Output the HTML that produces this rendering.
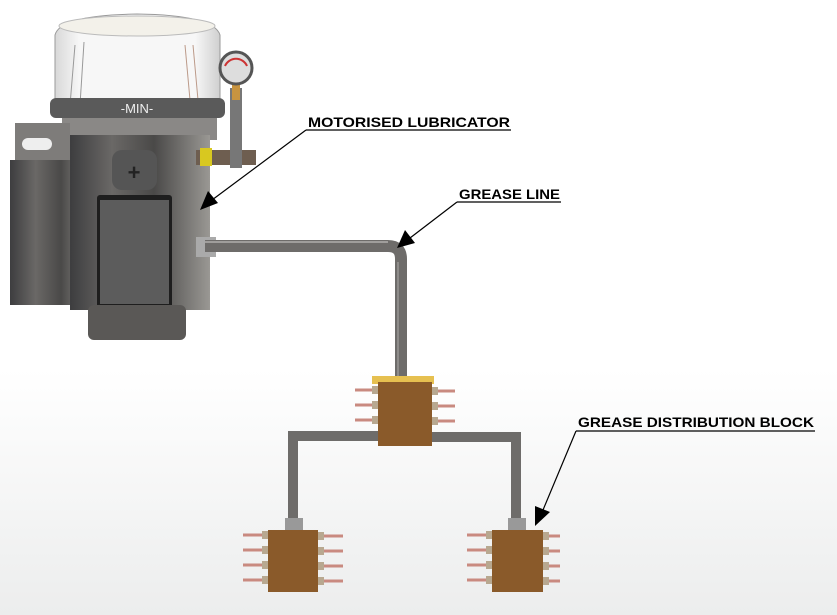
<!DOCTYPE html>
<html><head><style>
html,body{margin:0;padding:0;background:#fff;}
svg{display:block;}
text{font-family:"Liberation Sans",sans-serif;font-weight:bold;font-size:14px;fill:#000;}
</style></head><body>
<svg width="837" height="615" viewBox="0 0 837 615" xmlns="http://www.w3.org/2000/svg">
<defs>
<linearGradient id="bg" x1="0" y1="0" x2="0" y2="1"><stop offset="0.6" stop-color="#fff"/><stop offset="1" stop-color="#eceded"/></linearGradient>
<linearGradient id="metal" x1="0" y1="0" x2="1" y2="0"><stop offset="0" stop-color="#3d3d3f"/><stop offset="0.3" stop-color="#6a6866"/><stop offset="0.6" stop-color="#4a4948"/><stop offset="1" stop-color="#9a9894"/></linearGradient>
<linearGradient id="dome" x1="0" y1="0" x2="1" y2="0"><stop offset="0" stop-color="#d8d8d8"/><stop offset="0.15" stop-color="#f7f7f7"/><stop offset="0.85" stop-color="#f7f7f7"/><stop offset="1" stop-color="#cfcfcf"/></linearGradient>
</defs>
<rect width="837" height="615" fill="url(#bg)"/>

<!-- lubricator -->
<path d="M55 100 L55 35 Q60 15 137 14 Q214 15 220 35 L220 100 Z" fill="url(#dome)" stroke="#9a9a9a"/>
<ellipse cx="137" cy="26" rx="78" ry="10" fill="#f3f1ea" stroke="#bbb"/>
<line x1="75" y1="45" x2="70" y2="105" stroke="#999"/><line x1="84" y1="42" x2="80" y2="105" stroke="#999"/>
<line x1="185" y1="45" x2="190" y2="100" stroke="#b98" /><line x1="193" y1="45" x2="198" y2="100" stroke="#b98"/>
<rect x="50" y="98" width="175" height="20" rx="6" fill="#5a5a5a"/>
<text x="137" y="113" text-anchor="middle" style="font-size:13px;font-weight:normal;fill:#eee">-MIN-</text>
<rect x="62" y="118" width="155" height="22" fill="#8a8886"/>
<rect x="15" y="123" width="55" height="40" fill="#7e7c7a"/>
<rect x="22" y="138" width="30" height="12" rx="6" fill="#eee"/>
<rect x="10" y="160" width="85" height="145" fill="url(#metal)"/>
<rect x="70" y="135" width="140" height="175" fill="url(#metal)"/>
<rect x="112" y="150" width="45" height="40" rx="10" fill="#555"/>
<text x="134" y="180" text-anchor="middle" style="font-size:22px;fill:#222">+</text>
<rect x="97" y="195" width="75" height="115" rx="3" fill="#1e1e1e"/>
<rect x="100" y="200" width="69" height="104" fill="#5c5c5c"/>
<rect x="88" y="305" width="98" height="35" rx="6" fill="#5a5856"/>
<rect x="196" y="150" width="60" height="15" fill="#6e5e50"/>
<rect x="200" y="148" width="12" height="18" fill="#d8c820"/>
<rect x="230" y="88" width="12" height="80" fill="#777"/>
<rect x="232" y="85" width="8" height="15" fill="#c89440"/>
<circle cx="236" cy="68" r="16" fill="#ddd" stroke="#555" stroke-width="3"/>
<path d="M225 66 A12 12 0 0 1 247 66" fill="none" stroke="#c33" stroke-width="2"/>

<!-- grease line pipe -->
<rect x="196" y="237" width="20" height="20" fill="#aaa"/>
<path d="M205 246 L388 246 Q401 246 401 259 L401 380" fill="none" stroke="#6e6c6a" stroke-width="12"/>
<path d="M205 242 L388 242" stroke="#a09e9c" stroke-width="2"/>
<path d="M398 262 L398 378" stroke="#8e8c8a" stroke-width="2"/>

<!-- branches -->
<path d="M380 436 L293 436 L293 522" fill="none" stroke="#6e6c6a" stroke-width="10"/>
<path d="M432 437 L516 437 L516 522" fill="none" stroke="#6e6c6a" stroke-width="10"/>
<rect x="285" y="518" width="18" height="12" fill="#999"/>
<rect x="508" y="518" width="18" height="12" fill="#999"/>
<rect x="393" y="376" width="16" height="8" fill="#777"/>

<!-- center block -->
<rect x="372" y="376" width="62" height="8" fill="#e6c050"/>
<rect x="378" y="382" width="54" height="64" fill="#8a5a2a"/>
<g stroke="#c98a80" stroke-width="3">
<line x1="355" y1="390" x2="378" y2="390"/><line x1="355" y1="405" x2="378" y2="405"/><line x1="355" y1="420" x2="378" y2="420"/>
<line x1="432" y1="391" x2="455" y2="391"/><line x1="432" y1="406" x2="455" y2="406"/><line x1="432" y1="421" x2="455" y2="421"/>
</g>
<g fill="#b8a890"><rect x="372" y="386" width="6" height="8"/><rect x="372" y="401" width="6" height="8"/><rect x="372" y="416" width="6" height="8"/><rect x="432" y="387" width="6" height="8"/><rect x="432" y="402" width="6" height="8"/><rect x="432" y="417" width="6" height="8"/></g>

<!-- bottom left block -->
<rect x="268" y="530" width="50" height="62" fill="#8a5a2a"/>
<g stroke="#c98a80" stroke-width="3">
<line x1="243" y1="535" x2="268" y2="535"/><line x1="243" y1="550" x2="268" y2="550"/><line x1="243" y1="565" x2="268" y2="565"/><line x1="243" y1="580" x2="268" y2="580"/>
<line x1="318" y1="536" x2="343" y2="536"/><line x1="318" y1="551" x2="343" y2="551"/><line x1="318" y1="566" x2="343" y2="566"/><line x1="318" y1="581" x2="343" y2="581"/>
</g>
<g fill="#b8a890"><rect x="262" y="531" width="6" height="8"/><rect x="262" y="546" width="6" height="8"/><rect x="262" y="561" width="6" height="8"/><rect x="262" y="576" width="6" height="8"/><rect x="318" y="532" width="6" height="8"/><rect x="318" y="547" width="6" height="8"/><rect x="318" y="562" width="6" height="8"/><rect x="318" y="577" width="6" height="8"/></g>
<!-- bottom right block -->
<rect x="492" y="530" width="51" height="62" fill="#8a5a2a"/>
<g stroke="#c98a80" stroke-width="3">
<line x1="467" y1="535" x2="492" y2="535"/><line x1="467" y1="550" x2="492" y2="550"/><line x1="467" y1="565" x2="492" y2="565"/><line x1="467" y1="580" x2="492" y2="580"/>
<line x1="543" y1="536" x2="560" y2="536"/><line x1="543" y1="551" x2="560" y2="551"/><line x1="543" y1="566" x2="560" y2="566"/><line x1="543" y1="581" x2="560" y2="581"/>
</g>
<g fill="#b8a890"><rect x="486" y="531" width="6" height="8"/><rect x="486" y="546" width="6" height="8"/><rect x="486" y="561" width="6" height="8"/><rect x="486" y="576" width="6" height="8"/><rect x="543" y="532" width="6" height="8"/><rect x="543" y="547" width="6" height="8"/><rect x="543" y="562" width="6" height="8"/><rect x="543" y="577" width="6" height="8"/></g>

<!-- labels -->
<text x="308" y="127" textLength="202" lengthAdjust="spacingAndGlyphs">MOTORISED LUBRICATOR</text>
<line x1="306" y1="130" x2="511" y2="130" stroke="#000" stroke-width="1.2"/>
<line x1="306" y1="130" x2="212" y2="200" stroke="#000" stroke-width="1.2"/>
<polygon points="200,210 208,191 218,203" fill="#000"/>

<text x="459" y="199" textLength="101" lengthAdjust="spacingAndGlyphs">GREASE LINE</text>
<line x1="457" y1="202" x2="561" y2="202" stroke="#000" stroke-width="1.2"/>
<line x1="457" y1="202" x2="410" y2="238" stroke="#000" stroke-width="1.2"/>
<polygon points="397,248 405,230 415,243" fill="#000"/>

<text x="578" y="427" textLength="236" lengthAdjust="spacingAndGlyphs">GREASE DISTRIBUTION BLOCK</text>
<line x1="576" y1="431" x2="815" y2="431" stroke="#000" stroke-width="1.2"/>
<line x1="576" y1="431" x2="543" y2="510" stroke="#000" stroke-width="1.2"/>
<polygon points="535,526 535,506 550,512" fill="#000"/>
</svg>
</body></html>
